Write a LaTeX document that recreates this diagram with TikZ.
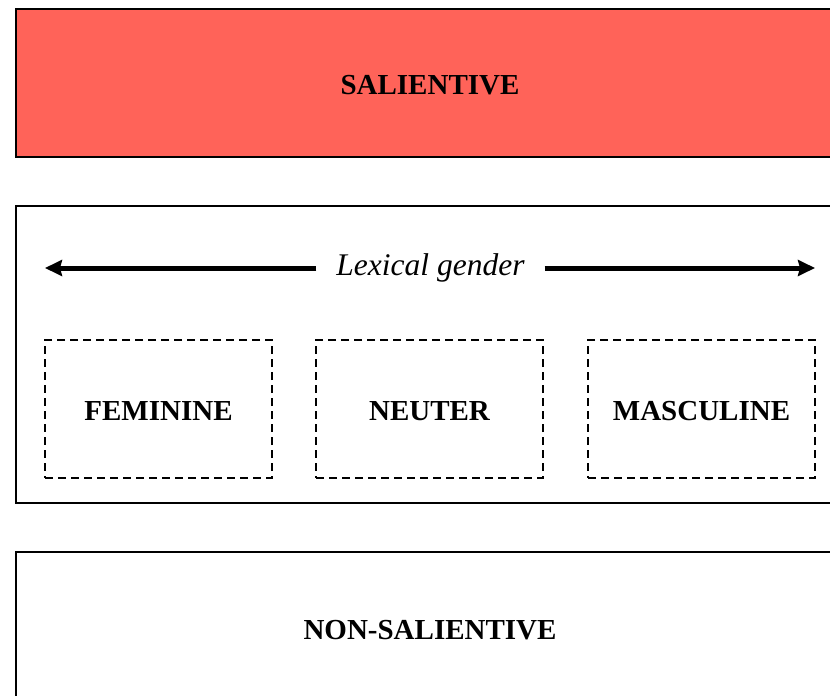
\documentclass[tikz,border=0pt]{standalone}
\usepackage{fontspec}
\setmainfont{Liberation Serif}
\usetikzlibrary{arrows.meta}

\begin{document}
\begin{tikzpicture}[
        x=1pt, y=-1pt,
        level/.style={rectangle, draw=black, line width=1.5pt, minimum width=828pt, minimum height=148pt, font=\fontsize{29}{34}\selectfont\bfseries},
        genbox/.style={rectangle, draw=black, line width=1.5pt, dash pattern=on 8pt off 5pt, minimum width=227pt, minimum height=138pt, font=\fontsize{29}{34}\selectfont\bfseries},
        arrow/.style={-{Stealth[length=17pt, width=16pt, inset=2pt]}, line width=5pt}
    ]
    \useasboundingbox (0,0) rectangle (830,696);
    \clip (0,0) rectangle (830,696);

    % Salience levels
    \node[level, fill={rgb,255:red,255;green,99;blue,89}] (salient) at (430,83) {};
    \node at (430,85.5) [font=\fontsize{29}{34}\selectfont\bfseries] (salientText) {SALIENTIVE};
    \node[level, minimum height=297pt] (lexical) at (430,354.5) {};
    \node[level, minimum height=152pt] (nonsalient) at (430,628) {};
    \node at (430,630.5) [font=\fontsize{29}{34}\selectfont\bfseries] (nonsalientText) {NON-SALIENTIVE};

    % Lexical gender
    \node[font=\fontsize{31.5}{36}\selectfont\itshape, inner xsep=20pt] (lex) at (430.5,267.5) {Lexical gender};
    \coordinate (lexL) at (45,268);
    \coordinate (lexR) at (815,268);
    \draw[arrow] (lex.west |- lexL) -- (lexL);
    \draw[arrow] (lex.east |- lexR) -- (lexR);

    \node[genbox] (fem) at (158.5,409) {};
    \node[genbox] (neut) at (429.5,409) {};
    \node[genbox] (masc) at (701.5,409) {};
    \foreach \g/\txt in {fem/FEMININE, neut/NEUTER, masc/MASCULINE}
        \node[font=\fontsize{29}{34}\selectfont\bfseries, yshift=-2.5pt] (\g Text) at (\g) {\txt};

\end{tikzpicture}
\end{document}
